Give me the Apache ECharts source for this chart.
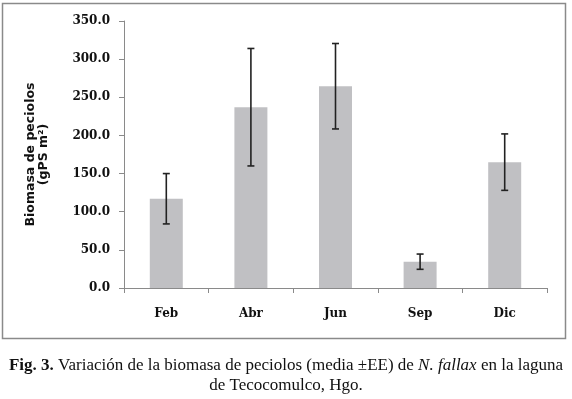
<!DOCTYPE html>
<html>
<head>
<meta charset="utf-8">
<script src="https://cdn.jsdelivr.net/npm/echarts@6/dist/echarts.min.js"></script>
<style>
html,body{margin:0;padding:0;background:#fff;}
#chart{width:572px;height:399px;}
</style>
</head>
<body>
<div id="chart"></div>
<script>
var categories = ['Feb', 'Abr', 'Jun', 'Sep', 'Dic'];
var means = [117, 237, 264.5, 34.5, 165];
var se = [33, 77, 56, 10, 37];
var yTicks = [0, 50, 100, 150, 200, 250, 300, 350];

var errData = categories.map(function (c, i) {
  return [i, means[i] - se[i], means[i] + se[i]];
});

var chart = echarts.init(document.getElementById('chart'));
chart.setOption({
  backgroundColor: '#ffffff',
  animation: false,
  grid: { left: 124, right: 25, top: 21, bottom: 111, containLabel: false },
  xAxis: {
    type: 'category',
    data: categories,
    axisLine: { lineStyle: { color: '#8a8a8a', width: 1 } },
    axisTick: { show: true, length: 5, alignWithLabel: false, lineStyle: { color: '#8a8a8a' } },
    axisLabel: { margin: 20, color: '#111', fontFamily: 'DejaVu Serif', fontWeight: 'bold', fontSize: 12 }
  },
  yAxis: {
    type: 'value',
    min: yTicks[0],
    max: yTicks[yTicks.length - 1],
    interval: 50,
    name: 'Biomasa de peciolos\n(gPS m²)',
    nameLocation: 'middle',
    nameRotate: 90,
    nameGap: 74,
    nameTextStyle: { color: '#111', fontFamily: 'DejaVu Sans', fontWeight: 'bold', fontSize: 12.5, lineHeight: 13 },
    splitLine: { show: false },
    axisLine: { show: true, lineStyle: { color: '#8a8a8a', width: 1 } },
    axisTick: { show: true, length: 5, lineStyle: { color: '#8a8a8a' } },
    axisLabel: {
      margin: 14, color: '#111', fontFamily: 'DejaVu Serif', fontWeight: 'bold', fontSize: 12,
      formatter: function (v) { return v.toFixed(1); }
    }
  },
  series: [
    {
      type: 'bar',
      data: means,
      barWidth: 33,
      itemStyle: { color: '#c0c0c3' }
    },
    {
      type: 'custom',
      data: errData,
      z: 5,
      renderItem: function (params, api) {
        var x = api.value(0);
        var lo = api.coord([x, api.value(1)]);
        var hi = api.coord([x, api.value(2)]);
        var hw = 3.5;
        var st = { stroke: '#222', lineWidth: 1.6 };
        return {
          type: 'group',
          children: [
            { type: 'line', shape: { x1: hi[0], y1: hi[1], x2: lo[0], y2: lo[1] }, style: st },
            { type: 'line', shape: { x1: hi[0] - hw, y1: hi[1], x2: hi[0] + hw, y2: hi[1] }, style: st },
            { type: 'line', shape: { x1: lo[0] - hw, y1: lo[1], x2: lo[0] + hw, y2: lo[1] }, style: st }
          ]
        };
      }
    }
  ],
  graphic: [
    {
      type: 'rect',
      shape: { x: 2.5, y: 3.5, width: 563, height: 335 },
      style: { fill: null, stroke: '#8a8a8a', lineWidth: 1.5 },
      silent: true
    },
    {
      type: 'text',
      left: 'center',
      top: 357,
      style: {
        text: '{b|Fig. 3.} Variación de la biomasa de peciolos (media ±EE) de {i|N. fallax} en la laguna',
        fill: '#111',
        fontFamily: 'Liberation Serif',
        fontSize: 17,
        rich: {
          b: { fontWeight: 'bold', fontFamily: 'Liberation Serif', fontSize: 17, fill: '#111' },
          i: { fontStyle: 'italic', fontFamily: 'Liberation Serif', fontSize: 17, fill: '#111' }
        }
      }
    },
    {
      type: 'text',
      left: 'center',
      top: 377,
      style: {
        text: 'de Tecocomulco, Hgo.',
        fill: '#111',
        fontFamily: 'Liberation Serif',
        fontSize: 17
      }
    }
  ]
});
</script>
</body>
</html>
